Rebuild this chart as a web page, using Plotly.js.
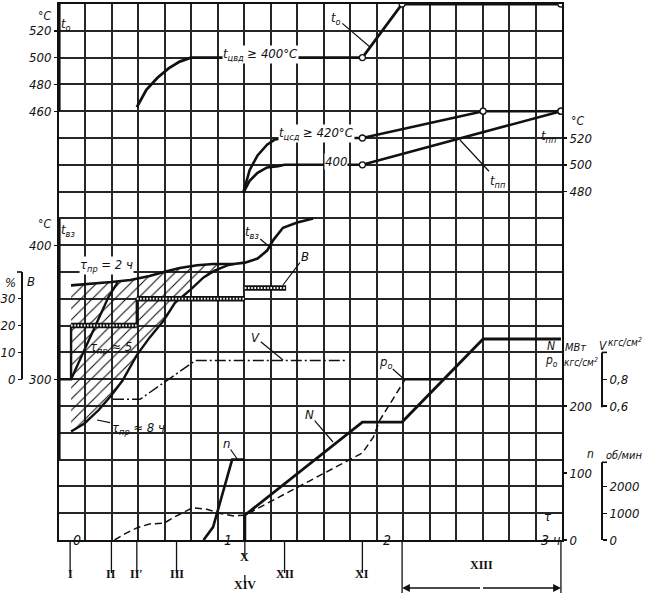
<!DOCTYPE html>
<html><head><meta charset="utf-8">
<script src="https://cdn.plot.ly/plotly-3.0.1.min.js"></script>
<style>html,body{margin:0;padding:0;background:#fff}</style>
</head><body><div id="chart" style="width:647px;height:601px"></div>
<script>
// ---------------- DATA (time in hours) ----------------
// t0 – live steam temperature, °C (upper-left scale)
const t0T = [0.42, 0.48, 0.55, 0.62, 0.69, 0.76, 1.84, 2.09, 3.09];
const t0V = [463, 476, 485, 492, 497, 500, 500, 540, 540];
const t0Nodes = [6, 7, 8];
// t_пп – reheat temperature, °C (right scale), two variants
const tppUpT = [1.09, 1.13, 1.18, 1.24, 1.29, 1.35, 1.84, 2.60, 3.09];
const tppUpV = [479, 496, 507, 515, 519, 520, 520, 540, 540];
const tppUpNodes = [6, 7, 8];
const tppLoT = [1.09, 1.13, 1.18, 1.24, 1.31, 1.35, 1.84, 3.09];
const tppLoV = [479, 488, 494, 498, 499, 500, 500, 540];
const tppLoNodes = [6, 7];
// t_вз, °C (middle-left scale): τпр = 2 ч, ≈5 ч, ≈8 ч
const tvzT = [0.006, 0.13, 0.26, 0.38, 0.50, 0.59, 0.69, 0.80, 0.90, 1.03, 1.10, 1.18, 1.24, 1.28, 1.34, 1.43, 1.53];
const tvzV = [370, 371, 372.5, 374, 377, 380, 383, 385, 386, 386, 387, 390, 396, 404, 413, 417, 420];
const tau5T = [0.006, 0.09, 0.18, 0.24, 0.30];
const tau5V = [300, 322, 346, 361, 372.5];
const tau8T = [0.006, 0.09, 0.18, 0.26, 0.33, 0.42, 0.50, 0.59, 0.66, 0.76, 0.84, 0.91, 0.99, 1.03];
const tau8V = [261, 267, 277, 288, 299, 318, 331, 344, 357, 367, 376, 381, 385, 386];
// В, %
const bT = [-0.07, 0.006, 0.006, 0.42, 0.42, 1.10];
const bV = [0, 0, 20, 20, 30, 30];
const b2T = [1.10, 1.36];
const b2V = [34, 34];
// V, кгс/см²
const vT = [0.27, 0.44, 0.79, 1.73];
const vV = [0.65, 0.65, 0.94, 0.94];
// n, об/мин
const nT = [0.84, 0.90, 1.02, 1.10];
const nV = [0, 480, 3000, 3000];
// N, МВт
const NT = [1.10, 1.10, 1.84, 2.09, 2.60, 3.09];
const NV = [0, 37, 176, 176, 300, 300];
// p0, кгс/см²
const pT = [0.28, 0.35, 0.42, 0.50, 0.59, 0.67, 0.77, 0.86, 0.94, 1.03, 1.10, 1.84, 1.91, 1.95, 2.11, 2.34];
const pV = [0, 10, 18, 24, 25, 36, 48, 46, 40, 36, 37, 130, 154, 179, 240, 240];
// tick labels
const t0Ticks = [460, 480, 500, 520];
const tvzTicks = [300, 400];
const bTicks = [0, 10, 20, 30];
const tppTicks = [480, 500, 520];
const NTicks = [0, 100, 200];
const nTicks = [0, 1000, 2000];
const vTicks = [0.6, 0.8];
const vTickText = ['0,6', '0,8'];
const timeTicks = [0, 1, 2, 3];
const timeLabels = ['0', '1', '2', '3 ч'];
const stageT = [0, 0.26, 0.42, 0.67, 1.10, 1.35, 1.84];
const stageLabels = ['I', 'II', 'II′', 'III', 'X', 'XII', 'XI'];
const xiiiT = [2.09, 3.09];

// ---------------- LAYOUT ----------------
const W = 647, H = 601;
const X0 = 59, X1 = 562, Y0 = 4, Y1 = 540;
const ROWS = 20, COLS = 19;
const xDom = [X0 / W, X1 / W], yDom = [1 - Y1 / H, 1 - Y0 / H];
const xRange = [-0.07, -0.07 + COLS / 6];
const FONT = 'Liberation Sans Narrow, DejaVu Sans Condensed, Arial Narrow, sans-serif';
const tf = (s) => ({family: FONT, size: s, color: '#111', style: 'italic'});
const scaleRange = (v0, r0, step) => [v0 - r0 * step, v0 + (ROWS - r0) * step];
const px = (p) => p / W, py = (p) => 1 - p / H;
const GRID = '#262626';

const baseY = {overlaying: 'y', showgrid: false, zeroline: false, showline: false,
  ticks: 'outside', ticklen: 4, tickwidth: 1.4, tickcolor: '#111', tickfont: tf(13),
  tickmode: 'array', fixedrange: true, automargin: false};
const ax = (o) => Object.assign({}, baseY, o);

const layout = {
  width: W, height: H, margin: {l: 0, r: 0, t: 0, b: 0, pad: 0},
  paper_bgcolor: '#fff', plot_bgcolor: '#fff', showlegend: false,
  xaxis: {domain: xDom, range: xRange, tick0: xRange[0], dtick: 1 / 6, showgrid: true,
    gridcolor: GRID, gridwidth: 2, showticklabels: false, ticks: '', zeroline: false,
    showline: true, mirror: true, linecolor: '#111', linewidth: 2, fixedrange: true, automargin: false},
  yaxis: {domain: yDom, range: [0, ROWS], tick0: 0, dtick: 1, showgrid: true,
    gridcolor: GRID, gridwidth: 2, showticklabels: false, ticks: '', zeroline: false,
    showline: true, mirror: true, linecolor: '#111', linewidth: 2, fixedrange: true, automargin: false},
  yaxis2: ax({side: 'left', anchor: 'x', range: scaleRange(460, 16, 20), tickvals: t0Ticks}),
  yaxis3: ax({side: 'left', anchor: 'x', range: scaleRange(400, 11, 20), tickvals: tvzTicks}),
  yaxis4: ax({side: 'left', anchor: 'free', position: px(22), range: scaleRange(0, 6, 10), tickvals: bTicks}),
  yaxis5: ax({side: 'right', anchor: 'x', range: scaleRange(520, 15, 20), tickvals: tppTicks}),
  yaxis6: ax({side: 'right', anchor: 'x', range: scaleRange(0, 0, 40), tickvals: NTicks}),
  yaxis7: ax({side: 'right', anchor: 'free', position: px(602), range: scaleRange(0, 0, 1000), tickvals: nTicks}),
  yaxis8: ax({side: 'right', anchor: 'free', position: px(602), range: scaleRange(0.8, 6, 0.2), tickvals: vTicks, ticktext: vTickText}),
  shapes: [], annotations: []
};

// axis spines / brackets
const spines = [
  {yref: 'y2', x: xDom[0], from: 460, to: 540, w: 3.2, cap: 0},
  {yref: 'y3', x: xDom[0], from: 240, to: 420, w: 3.2, cap: 0},
  {yref: 'y4', x: px(22), from: 0, to: 40, w: 2, cap: -5},
  {yref: 'y7', x: px(602), from: 0, to: 2900, w: 2, cap: 5},
  {yref: 'y8', x: px(602), from: 0.59, to: 1.0, w: 2, cap: 5}
];
spines.forEach(s => {
  layout.shapes.push({type: 'line', xref: 'paper', yref: s.yref, x0: s.x, x1: s.x, y0: s.from, y1: s.to,
    line: {color: '#111', width: s.w}});
  if (s.cap) layout.shapes.push({type: 'line', xref: 'paper', yref: s.yref, x0: s.x, x1: s.x + s.cap / W,
    y0: s.to, y1: s.to, line: {color: '#111', width: 1.6}});
});

// stage markers under the time axis
const LN = {color: '#111', width: 1.3};
const ROMAN = {family: 'Liberation Serif, DejaVu Serif, serif', size: 12, color: '#111'};
stageT.forEach((t, i) => {
  const isX = stageLabels[i] === 'X';
  layout.shapes.push({type: 'line', xref: 'x', yref: 'paper', x0: t, x1: t, y0: py(Y1), y1: py(isX ? 557 : 573), line: LN});
  layout.annotations.push({xref: 'x', yref: 'paper', x: t, y: py(isX ? 566 : 583), text: '<b>' + stageLabels[i] + '</b>',
    showarrow: false, font: ROMAN});
  if (isX) {
    layout.shapes.push({type: 'line', xref: 'x', yref: 'paper', x0: t, x1: t, y0: py(575), y1: py(583), line: LN});
    layout.annotations.push({xref: 'x', yref: 'paper', x: t, y: py(594), text: '<b>XIV</b>', showarrow: false, font: ROMAN});
  }
});
xiiiT.forEach(t => layout.shapes.push({type: 'line', xref: 'x', yref: 'paper', x0: t, x1: t, y0: py(Y1), y1: py(593), line: LN}));
const xiiiMid = (xiiiT[0] + xiiiT[1]) / 2;
xiiiT.forEach(t => layout.annotations.push({xref: 'x', yref: 'paper', x: t, y: py(588), axref: 'x', ayref: 'paper',
  ax: xiiiMid, ay: py(588), text: '', showarrow: true, arrowhead: 2, arrowsize: 1.2, arrowwidth: 1.3, arrowcolor: '#111', standoff: 0}));
layout.annotations.push({xref: 'x', yref: 'paper', x: xiiiMid, y: py(574), text: '<b>XIII</b>', showarrow: false, font: ROMAN});

// time labels
timeTicks.forEach((t, i) => layout.annotations.push({xref: 'x', yref: 'paper', x: t, y: py(550), text: timeLabels[i],
  showarrow: false, xshift: i === 0 ? 7 : (i === 3 ? 4 : -1), font: tf(14)}));

// free labels: [text, x, y, whiteBackground, fontSize, xanchor]
const labels = [
  ['°C', 44, 8, false, 12], ['t<sub>о</sub>', 66, 15],
  ['°C', 44, 224, false, 12], ['t<sub>вз</sub>', 68, 230],
  ['%', 10, 282], ['В', 31, 281],
  ['t<sub>цвд</sub> ≥ 400°C', 260, 45, true], ['t<sub>цсд</sub> ≥ 420°C', 316, 124, true], ['400', 336, 153, true],
  ['t<sub>пп</sub>', 549, 127], ['°C', 577, 113, false, 12],
  ['τ<sub>пр</sub> = 2 ч', 106, 265, true], ['τ<sub>пр</sub> ≈ 5', 111, 347],
  ['N', 551, 346, false, 12], ['p<sub>о</sub>', 551, 361, false, 12],
  ['МВт', 564, 347, false, 11, 'left'], ['V', 603, 346, false, 12],
  ['кгс/см<sup>2</sup>', 607, 342, false, 10, 'left'], ['кгс/см<sup>2</sup>', 563, 362, false, 10, 'left'],
  ['n', 590, 462, false, 12], ['об/мин', 605, 463, false, 11, 'left'], ['τ', 548, 525]
];
labels.forEach(l => layout.annotations.push({xref: 'paper', yref: 'paper', x: px(l[1]), y: py(l[2]), text: l[0],
  xanchor: l[5] || 'center', showarrow: false, font: tf(l[4] || 13), bgcolor: l[3] ? '#fff' : 'rgba(0,0,0,0)', borderpad: 0}));

const leaders = [
  ['t<sub>о</sub>', 336, 18, 370, 47], ['t<sub>пп</sub>', 498, 181, 460, 140],
  ['t<sub>вз</sub>', 252, 232, 272, 249], ['В', 305, 256, 283, 285],
  ['V', 255, 337, 283, 360], ['n', 226, 443, 238, 460], ['N', 309, 414, 333, 442],
  ['p<sub>о</sub>', 385, 362, 405, 380], ['τ<sub>пр</sub> ≈ 8 ч', 138, 428, 97, 420]
];
leaders.forEach(l => layout.annotations.push({xref: 'paper', yref: 'paper', x: px(l[3]), y: py(l[4]),
  ax: l[1] - l[3], ay: l[2] - l[4], text: l[0], showarrow: true, arrowhead: 0, arrowwidth: 1.2, arrowcolor: '#111',
  standoff: 0, startstandoff: 1, font: tf(13), borderpad: 0}));

// ---------------- TRACES ----------------
const line = (x, y, yaxis, width, dash, color) => ({type: 'scatter', mode: 'lines', x: x, y: y,
  xaxis: 'x', yaxis: yaxis, hoverinfo: 'skip', line: {color: color || '#111', width: width, dash: dash || 'solid'}});
const nodes = (x, y, idx, yaxis) => ({type: 'scatter', mode: 'markers', x: idx.map(i => x[i]), y: idx.map(i => y[i]),
  xaxis: 'x', yaxis: yaxis, hoverinfo: 'skip', marker: {symbol: 'circle', size: 6, color: '#fff', line: {color: '#111', width: 1.3}}});

// hatch polygon between τпр=2 ч curve and τпр≈8 ч curve
const tEnd = tau8T[tau8T.length - 1];
const hx = [], hy = [];
tvzT.forEach((t, i) => { if (t <= tEnd + 1e-9) { hx.push(t); hy.push(tvzV[i]); } });
for (let i = tau8T.length - 1; i >= 0; i--) { hx.push(tau8T[i]); hy.push(tau8V[i]); }

// В bars from horizontal steps
const barX = [], barY = [];
const addBars = (T, V) => { for (let i = 0; i < T.length - 1; i++) if (V[i] === V[i + 1] && V[i] > 0) { barX.push(T[i], T[i + 1], null); barY.push(V[i], V[i + 1], null); } };
addBars(bT, bV); addBars(b2T, b2V);

const traces = [
  {type: 'scatter', mode: 'lines', x: [null], y: [null], xaxis: 'x', yaxis: 'y', hoverinfo: 'skip'},
  {type: 'scatter', mode: 'lines', x: hx, y: hy, xaxis: 'x', yaxis: 'y3', fill: 'toself', hoverinfo: 'skip',
    fillcolor: 'rgba(0,0,0,0)', line: {width: 0, color: 'rgba(0,0,0,0)'},
    fillpattern: {shape: '/', fgcolor: '#111', bgcolor: 'rgba(0,0,0,0)', size: 8, solidity: 0.14}},
  line(tvzT, tvzV, 'y3', 2.6),
  line(tau5T, tau5V, 'y3', 2.4),
  line(tau8T, tau8V, 'y3', 2.4),
  line(bT, bV, 'y4', 2.4),
  line(barX, barY, 'y4', 5.5),
  line(barX, barY, 'y4', 2, '1.6px,1.6px', '#fff'),
  line(vT, vV, 'y8', 1.5, '11px,3px,2px,3px'),
  line(nT, nV, 'y7', 2.6),
  line(pT, pV, 'y6', 1.5, '7px,4px'),
  line(pT.slice(-2), pV.slice(-2), 'y6', 2.6),
  line(NT, NV, 'y6', 2.8),
  line(t0T, t0V, 'y2', 2.8),
  line(tppUpT, tppUpV, 'y5', 2.6),
  line(tppLoT, tppLoV, 'y5', 2.6),
  nodes(t0T, t0V, t0Nodes, 'y2'),
  nodes(tppUpT, tppUpV, tppUpNodes, 'y5'),
  nodes(tppLoT, tppLoV, tppLoNodes, 'y5')
];

Plotly.newPlot('chart', traces, layout, {staticPlot: true, displayModeBar: false});
</script></body></html>
